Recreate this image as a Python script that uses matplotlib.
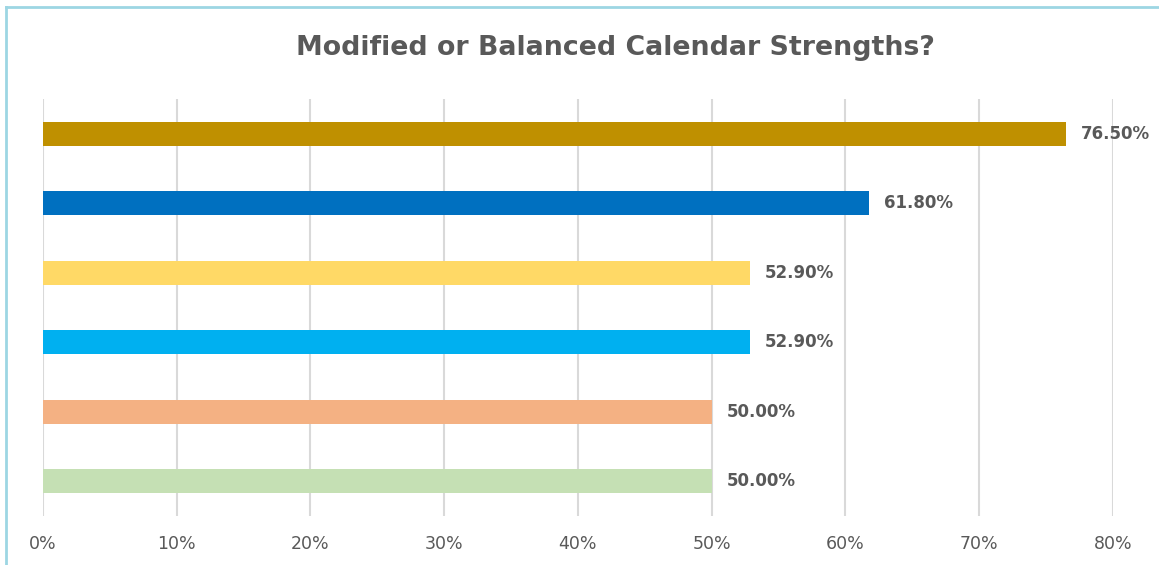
import matplotlib
matplotlib.use("Agg")
import matplotlib.pyplot as plt
from matplotlib.ticker import PercentFormatter

title = "Modified or Balanced Calendar Strengths?"
categories = ["A", "B", "C", "D", "E", "F"]  # top to bottom
values = [76.5, 61.8, 52.9, 52.9, 50.0, 50.0]
colors = ["#BF9000", "#0070C0", "#FFD966", "#00B0F0", "#F4B183", "#C5E0B4"]
xticks = [0, 10, 20, 30, 40, 50, 60, 70, 80]

plt.rcParams['font.family'] = ['DejaVu Sans']
fig = plt.figure(figsize=(11.59, 5.65), dpi=100)
ax = fig.add_axes([43/1159, 1-516/565, (1112.7-43)/1159, (516-99)/565])

ypos = list(range(len(categories)))[::-1]
ax.barh(ypos, values, height=0.35, color=colors, zorder=3)
for y, v in zip(ypos, values):
    ax.text(v + 1.1, y, f"{v:.2f}%", va='center', ha='left', fontsize=12,
            fontweight='bold', color='#595959')

ax.set_xlim(0, 80)
ax.set_ylim(-0.5, len(categories) - 0.5)
ax.set_xticks(xticks)
ax.xaxis.set_major_formatter(PercentFormatter(decimals=0))
ax.set_yticks([])
ax.grid(axis='x', color='#D9D9D9', linewidth=1.5, zorder=0)
for s in ax.spines.values():
    s.set_visible(False)
ax.tick_params(axis='x', length=0, pad=14, labelsize=12.5, labelcolor='#595959')

fig.text(615/1159, 1-48/565, title, ha='center', va='center', fontsize=19.3,
         fontweight='bold', color='#595959')

# chart area border (top and left visible)
fig.add_artist(plt.Line2D([6/1159, 6/1159], [0, 1-6.5/565], transform=fig.transFigure,
                          color='#9DD6E3', linewidth=2))
fig.add_artist(plt.Line2D([6/1159, 1], [1-6.5/565, 1-6.5/565], transform=fig.transFigure,
                          color='#9DD6E3', linewidth=2))

fig.savefig("out.png", dpi=100)
